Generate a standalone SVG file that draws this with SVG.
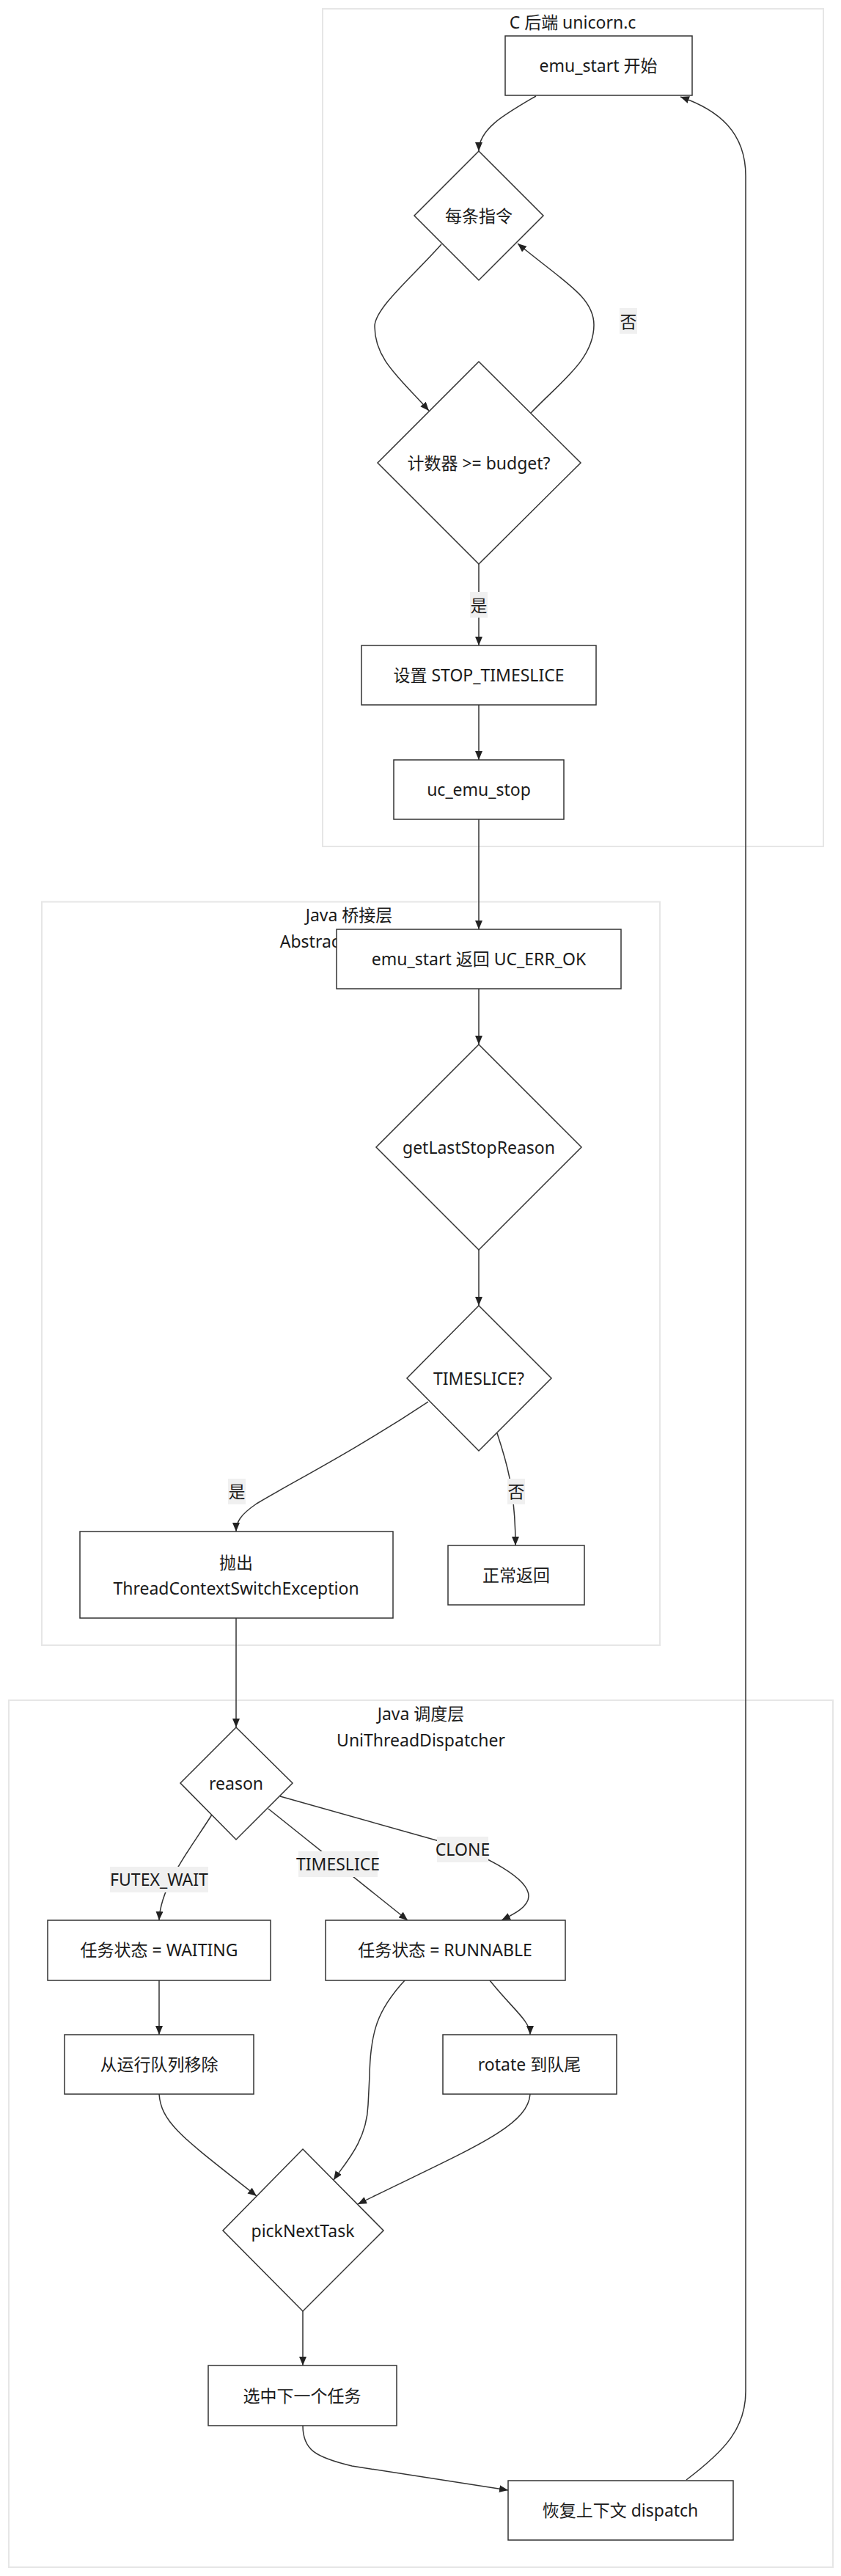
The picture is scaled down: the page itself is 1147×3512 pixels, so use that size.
<svg xmlns="http://www.w3.org/2000/svg" width="1147" height="3512" viewBox="0 0 1147 3512">
<style>
text{font-family:"Noto Sans","Noto Sans CJK SC",sans-serif;font-size:23px;fill:#1a1a1a;text-anchor:middle;dominant-baseline:central}
.cl{fill:#ffffff;stroke:#e6e6e6;stroke-width:2}
.nd{fill:#ffffff;stroke:#333333;stroke-width:1.5}
.ed{fill:none;stroke:#333333;stroke-width:1.5;marker-end:url(#arr)}
.lb{fill:#f0f0f0}
</style>
<defs>
<marker id="arr" markerUnits="userSpaceOnUse" markerWidth="12" markerHeight="10" viewBox="0 0 12 10" refX="12" refY="5" orient="auto"><path d="M0,0 L12,5 L0,10 z" fill="#222"/></marker>
</defs>
<rect width="1147" height="3512" fill="#ffffff"/>
<g id="clusters">
<g id="cluster-c"><rect class="cl" x="440" y="12" width="683" height="1142"/><text x="781" y="30">C 后端 unicorn.c</text></g>
<g id="cluster-bridge"><rect class="cl" x="57" y="1229.5" width="843" height="1013.5"/><text x="476" y="1247">Java 桥接层</text><text x="476" y="1283">AbstractEmulator</text></g>
<g id="cluster-sched"><rect class="cl" x="12" y="2318" width="1124" height="1182"/><text x="574" y="2336">Java 调度层</text><text x="574" y="2372">UniThreadDispatcher</text></g>
</g>
<g id="edges">
<path class="ed" d="M731,131 C690,155 653,175 653,206"/>
<path class="ed" d="M602,333 C565,375 511,420 511,445 C511,490 545,515 585,560"/>
<path class="ed" d="M724,563 C765,520 810,490 810,443 C810,405 770,385 706,332"/>
<path class="ed" d="M653,769 L653,880"/>
<path class="ed" d="M653,961 L653,1036"/>
<path class="ed" d="M653,1117 L653,1267"/>
<path class="ed" d="M653,1348 L653,1424"/>
<path class="ed" d="M653,1704 L653,1780"/>
<path class="ed" d="M584,1911 C480,1980 400,2020 350,2050 C328,2065 322,2075 322,2088"/>
<path class="ed" d="M678,1954 C690,1990 703,2030 703,2107"/>
<path class="ed" d="M322,2206 L322,2355"/>
<path class="ed" d="M289,2474 C260,2520 219,2570 217,2618"/>
<path class="ed" d="M366,2466 L556,2618"/>
<path class="ed" d="M382,2449 L620,2516 C660,2530 721,2560 721,2585 C721,2600 700,2610 684,2618"/>
<path class="ed" d="M217,2700 L217,2774"/>
<path class="ed" d="M668,2700 C700,2740 723,2755 723,2774"/>
<path class="ed" d="M552,2700 C515,2740 505,2770 504,2830 L502,2870 C500,2920 470,2950 455,2972"/>
<path class="ed" d="M217,2855 C220,2895 250,2915 350,2994"/>
<path class="ed" d="M723,2855 C720,2900 640,2930 488,3005"/>
<path class="ed" d="M413,3151 L413,3225"/>
<path class="ed" d="M413,3307 C413,3340 430,3350 480,3362 L693,3395"/>
<path class="ed" d="M936,3381 C990,3340 1017,3310 1017,3260 L1017,240 C1017,180 980,150 928,132"/>
</g>
<g id="edge-labels">
<rect class="lb" x="845" y="420" width="24" height="35"/><text x="857" y="438">否</text>
<rect class="lb" x="641" y="807" width="24" height="35"/><text x="653" y="825">是</text>
<rect class="lb" x="311" y="2016" width="24" height="35"/><text x="323" y="2033">是</text>
<rect class="lb" x="692" y="2016" width="24" height="35"/><text x="704" y="2033">否</text>
<rect class="lb" x="150" y="2545" width="134" height="35"/><text x="217" y="2562">FUTEX_WAIT</text>
<rect class="lb" x="407" y="2524" width="108" height="35"/><text x="461" y="2541">TIMESLICE</text>
<rect class="lb" x="596" y="2504" width="70" height="35"/><text x="631" y="2521">CLONE</text>
</g>
<g id="n-emu-start"><rect class="nd" x="689" y="49" width="255" height="81"/><text x="816" y="89">emu_start 开始</text></g>
<g id="n-each"><polygon class="nd" points="653,206 741,294 653,382 565,294"/><text x="653" y="294">每条指令</text></g>
<g id="n-counter"><polygon class="nd" points="653,493 792,631 653,769 515,631"/><text x="653" y="631">计数器 &gt;= budget?</text></g>
<g id="n-set"><rect class="nd" x="493" y="880" width="320" height="81"/><text x="653" y="920">设置 STOP_TIMESLICE</text></g>
<g id="n-stop"><rect class="nd" x="537" y="1036" width="232" height="81"/><text x="653" y="1076">uc_emu_stop</text></g>
<g id="n-return"><rect class="nd" x="459" y="1267" width="388" height="81"/><text x="653" y="1307">emu_start 返回 UC_ERR_OK</text></g>
<g id="n-getlast"><polygon class="nd" points="653,1424 793,1564 653,1704 513,1564"/><text x="653" y="1564">getLastStopReason</text></g>
<g id="n-timeslice"><polygon class="nd" points="653,1780 752,1879 653,1978 555,1879"/><text x="653" y="1879">TIMESLICE?</text></g>
<g id="n-throw"><rect class="nd" x="109" y="2088" width="427" height="118"/><text x="322" y="2130">抛出</text><text x="322" y="2165">ThreadContextSwitchException</text></g>
<g id="n-normal"><rect class="nd" x="611" y="2107" width="186" height="81"/><text x="704" y="2147">正常返回</text></g>
<g id="n-reason"><polygon class="nd" points="322,2355 399,2431 322,2508 246,2431"/><text x="322" y="2431">reason</text></g>
<g id="n-waiting"><rect class="nd" x="65" y="2618" width="304" height="82"/><text x="217" y="2658">任务状态 = WAITING</text></g>
<g id="n-runnable"><rect class="nd" x="444" y="2618" width="327" height="82"/><text x="607" y="2658">任务状态 = RUNNABLE</text></g>
<g id="n-remove"><rect class="nd" x="88" y="2774" width="258" height="81"/><text x="217" y="2814">从运行队列移除</text></g>
<g id="n-rotate"><rect class="nd" x="604" y="2774" width="237" height="81"/><text x="722" y="2814">rotate 到队尾</text></g>
<g id="n-pick"><polygon class="nd" points="413,2930 523,3041 413,3151 304,3041"/><text x="413" y="3041">pickNextTask</text></g>
<g id="n-select"><rect class="nd" x="284" y="3225" width="257" height="82"/><text x="412" y="3266">选中下一个任务</text></g>
<g id="n-restore"><rect class="nd" x="693" y="3382" width="307" height="81"/><text x="846" y="3422">恢复上下文 dispatch</text></g>
</svg>
